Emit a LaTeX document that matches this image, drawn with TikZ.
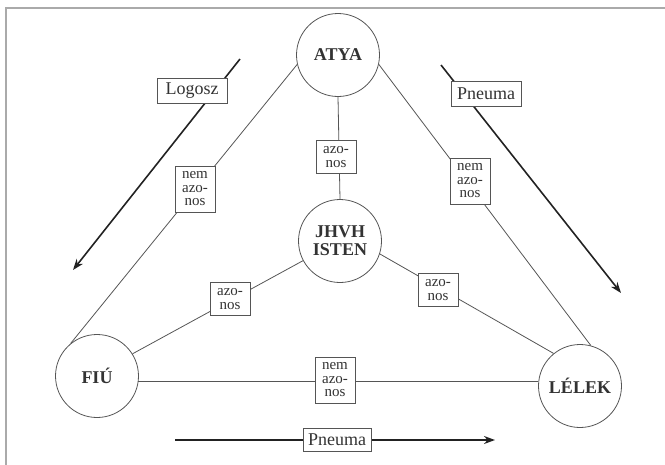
\documentclass[tikz,border=0pt]{standalone}
\usepackage{fontspec}
\setmainfont{Liberation Serif}
\usetikzlibrary{arrows.meta}
\definecolor{linec}{HTML}{555555}
\definecolor{txt}{HTML}{333333}
\definecolor{arrc}{HTML}{222222}
\definecolor{framec}{HTML}{AAAAAA}
\begin{document}
\begin{tikzpicture}[x=1pt,y=-1pt,
  circ/.style={circle, draw=linec, line width=0.8pt, minimum size=83pt, inner sep=0pt,
    font=\fontsize{18}{18}\selectfont\bfseries, text=txt, align=center},
  lab/.style={draw=linec, line width=0.8pt, fill=white, inner sep=1.5pt,
    font=\fontsize{15}{13.5}\selectfont, text=txt, align=center, minimum width=40pt},
  big/.style={draw=linec, line width=0.8pt, fill=white, minimum width=70pt,
    minimum height=25pt, inner sep=1pt, font=\fontsize{18}{18}\selectfont, text=txt},
  conn/.style={draw=linec, line width=0.8pt},
  flow/.style={draw=arrc, line width=1.6pt, -{Stealth[length=11pt,width=8pt]}}
]
\useasboundingbox (0,0) rectangle (665,464);
\draw[framec, line width=2pt] (6,470) -- (6,8) -- (670,8);

% circles
\node[circ] (atya) at (338,55) {ATYA};
\node[circ] (isten) at (340,241) {JHVH\\ISTEN};
\node[circ] (fiu) at (97,376) {FIÚ};
\node[circ] (lelek) at (580,386) {LÉLEK};

% connectors
\draw[conn] (atya.south) -- (isten.north);
\draw[conn] (atya.193) -- (fiu.129);
\draw[conn] (atya.-13) -- (lelek.75);
\draw[conn] (isten.208) -- (fiu.32);
\draw[conn] (isten.-18) -- (lelek.129);
\draw[conn] (fiu.-8) -- (fiu.-8 -| lelek.west);

% flow arrows
\coordinate (lgA) at (240,59);
\coordinate (lgB) at (73,270);
\coordinate (pnA) at (441,65);
\coordinate (pnB) at (621,293);
\coordinate (pbA) at (175,440);
\coordinate (pbB) at (495,440);
\draw[flow] (lgA) -- (lgB);
\draw[flow] (pnA) -- (pnB);
\draw[flow] (pbA) -- (pbB);

% label boxes
\node[big] (logosz) at (192,91) {Logosz};
\node[big] (pneumaR) at (486,94) {Pneuma};
\node[big, minimum width=68pt, minimum height=23pt] (pneumaB) at (337,440) {Pneuma};

\node[lab, minimum height=33pt] (l1) at (336,157) {azo-\\nos};
\node[lab, minimum height=46pt] (l2) at (195,189) {nem\\azo-\\nos};
\node[lab, minimum height=46pt] (l3) at (470,181) {nem\\azo-\\nos};
\node[lab, minimum height=33pt] (l4) at (230,299) {azo-\\nos};
\node[lab, minimum height=33pt] (l5) at (438,290) {azo-\\nos};
\node[lab, minimum height=46pt] (l6) at (335,380) {nem\\azo-\\nos};
\end{tikzpicture}
\end{document}
